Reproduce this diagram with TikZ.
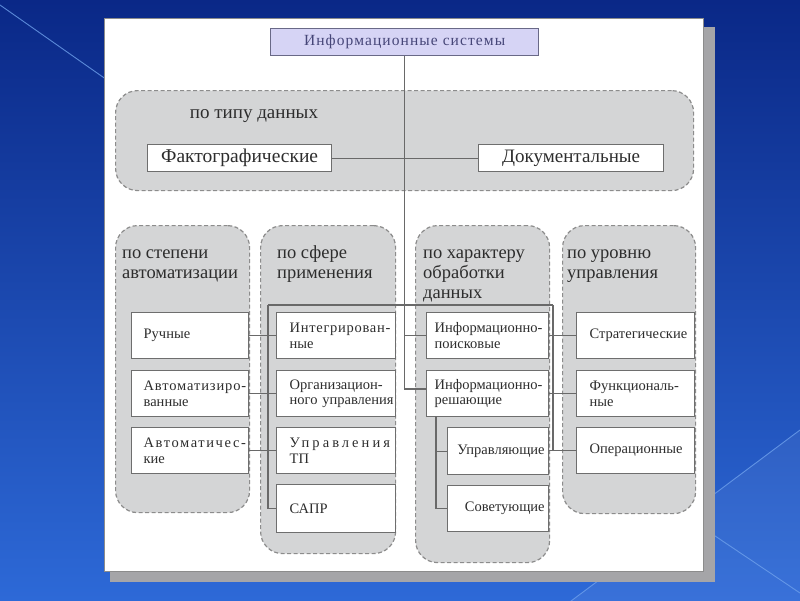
\documentclass[tikz,border=0pt]{standalone}
\usepackage{fontspec}
\setmainfont{Liberation Serif}
\newfontfamily\widefont[LetterSpace=7]{Liberation Serif}
\usetikzlibrary{calc}
\newcommand{\ls}[2]{\mbox{\addfontfeatures{LetterSpace=#1}#2}}
\definecolor{bgtop}{RGB}{10,40,135}
\definecolor{bgbot}{RGB}{45,105,215}
\definecolor{bgline}{RGB}{110,160,235}
\definecolor{shadowc}{RGB}{165,165,168}
\definecolor{panelline}{RGB}{140,140,140}
\definecolor{grpfill}{RGB}{212,213,214}
\definecolor{grpline}{RGB}{140,140,140}
\definecolor{boxline}{RGB}{110,110,110}
\definecolor{linec}{RGB}{105,105,105}
\definecolor{txtc}{RGB}{45,45,45}
\definecolor{topfill}{RGB}{214,212,245}
\definecolor{topline}{RGB}{105,105,135}
\definecolor{toptxt}{RGB}{70,70,120}
\tikzset{
  grp/.style={draw=grpline, fill=grpfill, line width=1.2pt, dash pattern=on 4pt off 2.5pt,
    rounded corners=22pt, anchor=north west, inner sep=0pt},
  lbl/.style={anchor=north west, inner sep=0pt, align=left, text=txtc,
    font=\fontsize{18.5}{20}\selectfont},
  bx/.style={draw=boxline, fill=white, line width=1.3pt, anchor=north west, inner ysep=0pt,
    text=txtc, font=\fontsize{14.5}{15.5}\selectfont},
  conn/.style={draw=linec, line width=1.3pt},
}
\begin{document}
\begin{tikzpicture}[x=1pt,y=-1pt]
\useasboundingbox (0,0) rectangle (800,600);
% background
\shade[top color=bgtop, bottom color=bgbot] (0,0) rectangle (800,600);
\fill[white, opacity=0.06] (800,430) -- (567,604) -- (800,604) -- cycle;
\draw[bgline, line width=0.9pt, opacity=0.8] (0,5) -- (110,82);
\draw[bgline, line width=0.9pt, opacity=0.8] (800,430) -- (567,604);
\draw[bgline, line width=0.9pt, opacity=0.8] (660,499) -- (800,593);
% panel
\fill[shadowc] (110,27) rectangle (715,582);
\draw[panelline, fill=white, line width=0.8pt] (104,18) rectangle (703,571);
% groups
\node[grp, minimum width=578pt, minimum height=100pt] (g0) at (115,90) {};
\node[grp, minimum width=134pt, minimum height=287pt] (g1) at (115,225) {};
\node[grp, minimum width=135pt, minimum height=328pt] (g2) at (260,225) {};
\node[grp, minimum width=134pt, minimum height=337pt] (g3) at (415,225) {};
\node[grp, minimum width=133pt, minimum height=288pt] (g4) at (562,225) {};
% group labels
\node[lbl, anchor=base, font=\fontsize{19}{20}\selectfont] (l0) at (254,118) {по типу данных};
\node[lbl] (l1) at (122,244) {\strut по степени\\автоматизации};
\node[lbl] (l2) at (277,244) {\strut по сфере\\применения};
\node[lbl] (l3) at (423,244) {\strut по характеру\\обработки\\данных};
\node[lbl] (l4) at (567,244) {\strut по уровню\\управления};
% top box
\node[draw=topline, fill=topfill, line width=1.3pt, anchor=north west, minimum width=268pt,
  minimum height=27pt, inner sep=0pt, text=toptxt, font=\widefont\fontsize{15.5}{16}\selectfont]
  (top) at (270,28) {Информационные системы};
% type of data
\node[bx, minimum width=184pt, minimum height=27pt, inner xsep=0pt,
  font=\fontsize{19.5}{20}\selectfont] (fact) at (147,144) {Фактографические};
\node[bx, minimum width=185pt, minimum height=27pt, inner xsep=0pt,
  font=\fontsize{19}{20}\selectfont] (doc) at (478,144) {Документальные};
% column 1
\tikzset{c1/.style={bx, minimum height=46pt, inner xsep=12pt, text width=93pt, align=left}}
\node[c1] (b11) at (131,312) {Ручные};
\node[c1] (b12) at (131,370) {\ls{6}{Автоматизиро-}\\\mbox{ванные}};
\node[c1] (b13) at (131,427) {\ls{11}{Автоматичес-}\\\mbox{кие}};
% column 2
\tikzset{c2/.style={bx, minimum height=46pt, inner xsep=13pt, text width=93pt, align=left}}
\node[c2] (b21) at (276,312) {\ls{5}{Интегрирован-}\\\mbox{ные}};
\node[c2] (b22) at (276,370) {\mbox{Организацион-}\\\mbox{ного управления}};
\node[c2] (b23) at (276,427) {\ls{21}{Управления}\\\mbox{ТП}};
\node[c2, minimum height=48pt] (b24) at (276,484) {САПР};
% column 3
\tikzset{c3/.style={bx, minimum height=46pt, inner xsep=8pt, text width=106pt, align=left}}
\node[c3] (b31) at (426,312) {\mbox{Информационно-}\\\mbox{поисковые}};
\node[c3] (b32) at (426,370) {\mbox{Информационно-}\\\mbox{решающие}};
\tikzset{c3s/.style={bx, minimum height=46pt, inner xsep=4pt, text width=93pt, align=right}}
\node[c3s, minimum height=47pt] (b33) at (447,427) {Управляющие};
\node[c3s] (b34) at (447,485) {Советующие};
% column 4
\tikzset{c4/.style={bx, minimum height=46pt, inner xsep=13pt, text width=92pt, align=left}}
\node[c4] (b41) at (576,312) {Стратегические};
\node[c4] (b42) at (576,370) {\mbox{Функциональ-}\\\mbox{ные}};
\node[c4] (b43) at (576,427) {Операционные};
% connectors
\coordinate (busL) at (268,305);
\coordinate (busR) at (553,305);
\coordinate (busLb) at (busL |- b24.west);
\coordinate (busRb) at (busR |- b43.west);
\coordinate (mainB) at (top.south |- 0,389);
\coordinate (subT) at (436,416);
\coordinate (subB) at (subT |- b34.west);
\draw[conn] (fact.east) -- (doc.west);
\draw[conn] (top.south) -- (mainB) -- (mainB -| b32.west);
\draw[conn] (busL) -- (busR);
\draw[conn] (busL) -- (busLb);
\draw[conn] (busR) -- (busRb);
\draw[conn] (b11.east) -- (b11.east -| b21.west);
\draw[conn] (b12.east) -- (b12.east -| b22.west);
\draw[conn] (b13.east) -- (b13.east -| b23.west);
\draw[conn] (busLb) -- (b24.west);
\draw[conn] (top.south |- b31.west) -- (b31.west);
\draw[conn] (b31.east) -- (b31.east -| b41.west);
\draw[conn] (b32.east) -- (b32.east -| b42.west);
\draw[conn] (b33.east |- b43.west) -- (b43.west);
\draw[conn] (subT) -- (subB);
\draw[conn] (subT |- b33.west) -- (b33.west);
\draw[conn] (subB) -- (b34.west);
\end{tikzpicture}
\end{document}
